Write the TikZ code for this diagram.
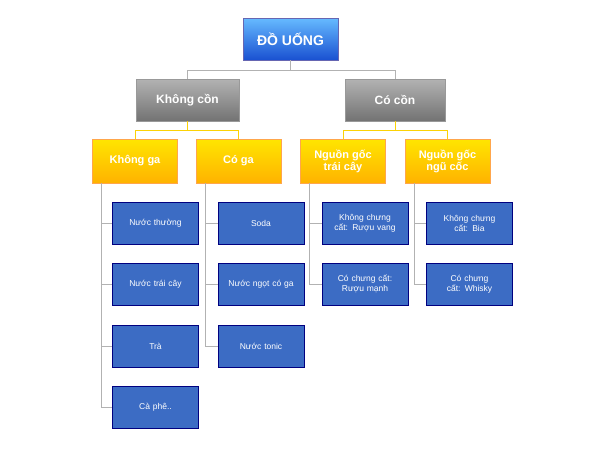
\documentclass[tikz,border=0pt]{standalone}
\usepackage{fontspec}
\setmainfont{Liberation Sans}
\begin{document}
\begin{tikzpicture}[x=1pt,y=-1pt,
 top/.style={draw=blue!50!black!60,top color=blue!45!cyan!60!white,bottom color=blue!70!cyan!80!black!90,text=white,font=\bfseries\fontsize{14}{16}\selectfont},
 grey/.style={draw=gray!80,top color=gray!60,bottom color=gray!90!black,text=white,font=\bfseries\fontsize{12}{14}\selectfont},
 yel/.style={draw=orange!70,top color=yellow!80!orange,bottom color=orange!60!yellow,text=white,font=\bfseries\fontsize{11}{12}\selectfont,align=center},
 leaf/.style={draw=blue!50!black,fill={rgb,255:red,60;green,108;blue,196},text=white,font=\fontsize{8.5}{10}\selectfont,align=center,text width=78pt},
 ln/.style={draw=gray!60,line width=0.6pt},
 yl/.style={draw=yellow!70!orange,line width=0.6pt}]
\useasboundingbox (0,0) rectangle (600,450);
\newcommand\bx[6]{\path[#1] (#2,#3) rectangle (#4,#5); \node[#1,draw=none,fill=none,shading=none,top color=,bottom color=] (#6) at ({(#2+#4)/2},{(#3+#5)/2}) {};}
\node[top,minimum width=95pt,minimum height=42pt] (r) at (290.5,39) {ĐỒ UỐNG};
\node[grey,minimum width=103pt,minimum height=42pt] (k) at (187.5,100) {Không cồn};
\node[grey,minimum width=100pt,minimum height=42pt] (c) at (395,100) {Có cồn};
\foreach \n/\x/\t in {kg/135/Không ga,cg/238.5/Có ga,nt/343/Nguồn gốc\\trái cây,nn/447.5/Nguồn gốc\\ngũ cốc}
 \node[yel,minimum width=85pt,minimum height=44pt,inner sep=1pt] (\n) at (\x,161) {\t};
\draw[ln] (r.south) -- ++(0,10) -| (k.north);
\draw[ln] (r.south) ++(0,10) -| (c.north);
\draw[yl] (k.south) -- ++(0,9) -| (kg.north);
\draw[yl] (k.south) ++(0,9) -| (cg.north);
\draw[yl] (c.south) -- ++(0,9) -| (nt.north);
\draw[yl] (c.south) ++(0,9) -| (nn.north);
\foreach \p/\x/\lst in {kg/155.5/{a1/223/Nước thường,a2/284/Nước trái cây,a3/346/Trà,a4/407/Cà phê..},
 cg/261/{b1/223/Soda,b2/284/Nước ngọt có ga,b3/346/Nước tonic},
 nt/365/{c1/223/Không chưng cất: Rượu vang,c2/284/Có chưng cất: Rượu mạnh},
 nn/469.5/{d1/223/Không chưng cất: Bia,d2/284/Có chưng cất: Whisky}}{
 \foreach \n/\y/\t in \lst {
  \node[leaf,minimum width=86pt,minimum height=42pt] (\n) at (\x,\y) {\t};
  \draw[ln] (\p.south west) ++(9,0) |- (\n.west);
 }}
\end{tikzpicture}
\end{document}
